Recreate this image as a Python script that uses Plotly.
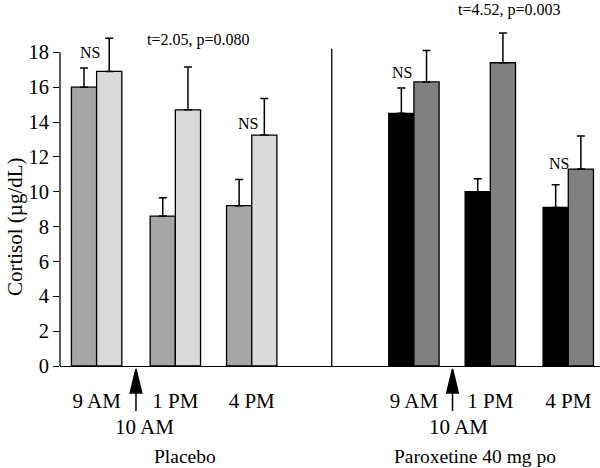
import plotly.graph_objects as go

# cortisol (ug/dL), mean and upper SEM
times = ["9 AM", "1 PM", "4 PM"]

placebo_a = [16.0, 8.6, 9.2]
placebo_a_err = [1.1, 1.05, 1.5]
placebo_b = [16.9, 14.7, 13.25]
placebo_b_err = [1.9, 2.45, 2.1]

parox_a = [14.5, 10.0, 9.1]
parox_a_err = [1.45, 0.75, 1.3]
parox_b = [16.3, 17.4, 11.3]
parox_b_err = [1.8, 1.7, 1.9]

# group positions on the x axis
placebo_x = [1, 2, 2.97]
parox_x = [5.03, 6, 6.99]

serif = "Liberation Serif"
bw = 0.32


def bars(x, y, err, color, offset):
    return go.Bar(
        x=x, y=y, width=bw, offset=offset,
        marker=dict(color=color, line=dict(color="black", width=1.3)),
        error_y=dict(type="data", array=err, arrayminus=[0] * len(err),
                     symmetric=False, color="black", thickness=1.5, width=4),
        showlegend=False, hoverinfo="y",
    )


fig = go.Figure([
    bars(placebo_x, placebo_a, placebo_a_err, "#a6a6a6", -bw),
    bars(placebo_x, placebo_b, placebo_b_err, "#d9d9d9", 0),
    bars(parox_x, parox_a, parox_a_err, "black", -bw),
    bars(parox_x, parox_b, parox_b_err, "#808080", 0),
])

def arrow(x):
    return dict(type="path", xref="x", yref="paper", xsizemode="pixel", ysizemode="pixel",
                xanchor=x, yanchor=0,
                path="M0,-3 L-5.8,-27 L5.8,-27 Z M0,-27 L0,-45",
                fillcolor="black", line=dict(color="black", width=1.5))

shapes = [
    dict(type="line", xref="paper", yref="y", x0=0, x1=0, y0=0, y1=18,
         line=dict(color="black", width=1.3)),
    dict(type="line", xref="x", yref="y", x0=3.986, x1=3.986, y0=0, y1=18.2,
         line=dict(color="black", width=1.3)),
    arrow(1.5),
    arrow(5.52),
]

small = dict(family=serif, size=16, color="black")
big = dict(family=serif, size=21, color="black")
group = dict(family=serif, size=19.5, color="black")
tick = dict(family=serif, size=20.5, color="black")
annotations = [
    dict(x=0.916, y=18.0, text="NS", font=small),
    dict(x=2.30, y=18.7, text="t=2.05, p=0.080", font=small),
    dict(x=2.926, y=13.92, text="NS", font=small),
    dict(x=4.88, y=16.83, text="NS", font=small),
    dict(x=6.24, y=20.42, text="t=4.52, p=0.003", font=small),
    dict(x=6.87, y=11.63, text="NS", font=small),
    dict(x=1.213, y=0, yref="paper", yshift=-60.7, xanchor="left", text="10 AM", font=big),
    dict(x=5.19, y=0, yref="paper", yshift=-60.7, xanchor="left", text="10 AM", font=big),
    dict(x=1.70, y=0, yref="paper", yshift=-90.7, xanchor="left", text="Placebo", font=group),
    dict(x=4.75, y=0, yref="paper", yshift=-90.7, xanchor="left",
         text="Paroxetine 40 mg po", font=group),
    dict(x=-0.0833, xref="paper", y=7.97, text="Cortisol (\u00b5g/dL)", textangle=-90,
         font=big),
]
for a in annotations:
    a.setdefault("xref", "x")
    a.setdefault("yref", "y")
    a["showarrow"] = False
    a.setdefault("xanchor", "center")
    a.setdefault("yanchor", "middle")

fig.update_layout(
    width=600, height=468,
    margin=dict(l=60, r=0, t=0, b=102),
    paper_bgcolor="white", plot_bgcolor="white",
    font=dict(family=serif, color="black"),
    barmode="overlay",
    xaxis=dict(range=[0.535, 7.393], showgrid=False, zeroline=False,
               showline=True, linecolor="black", linewidth=1.3,
               ticks="", tickvals=placebo_x + parox_x, ticktext=times + times,
               tickfont=big, ticklabelstandoff=16),
    yaxis=dict(range=[0, 21.0], showgrid=False, zeroline=False, showline=False,
               ticks="outside", ticklen=6, tickwidth=1.3, tickcolor="black",
               tickvals=list(range(0, 19, 2)), tickfont=tick),
    shapes=shapes,
    annotations=annotations,
)

# page body has a default 8px margin; drop it so the figure fills the window
fig.write_html("out.html", config={"displayModeBar": False},
               post_script="document.body.style.margin='0';")
